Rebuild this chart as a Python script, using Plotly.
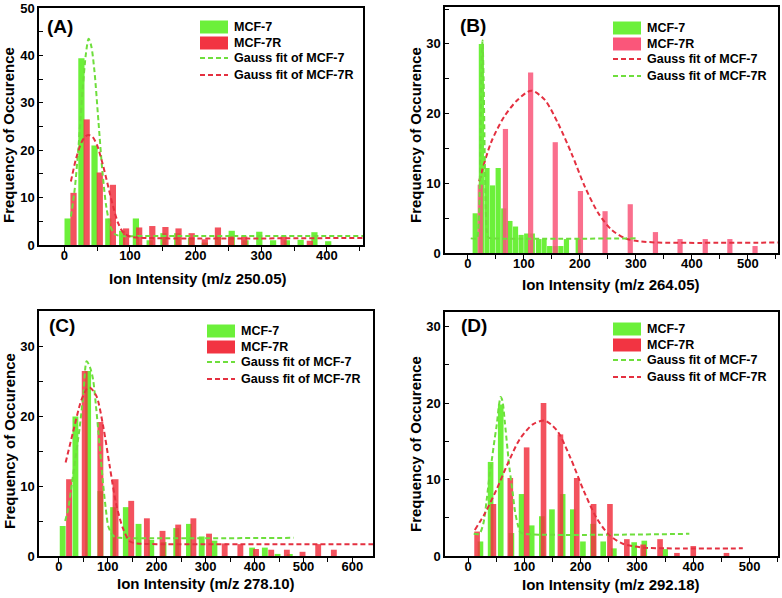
import plotly.graph_objects as go

W, H = 782, 598

# ---- (A) m/z 250.05 ----
a_green_x = [5, 26, 46, 67, 88, 109, 130, 151, 172, 193, 214, 234, 255, 276, 297, 318, 339, 360, 381, 402]
a_green_y = [5.6, 39.4, 21.0, 5.6, 3.0, 5.6, 1.0, 2.5, 2.5, 1.5, 0.5, 2.0, 3.0, 1.0, 2.8, 1.0, 1.0, 1.1, 2.7, 0.8]
a_red_x = [14, 34, 54, 74, 94, 114, 134, 154, 174, 194, 214, 234, 254, 274, 294, 314, 334, 354, 374]
a_red_y = [11.0, 26.5, 15.3, 12.7, 3.5, 3.7, 4.0, 3.8, 3.5, 2.5, 1.2, 3.7, 1.8, 1.8, 0, 0, 1.8, 0, 0.9]
a_gfit_x = [10, 16, 22, 28, 33, 37, 41, 46, 52, 58, 64, 70, 76, 85, 120, 455]
a_gfit_y = [6.0, 12.0, 21.5, 33.0, 40.5, 43.5, 42.0, 36.5, 26.0, 15.5, 8.0, 4.0, 2.4, 1.9, 1.9, 1.9]
a_rfit_x = [10, 18, 26, 32, 37, 43, 50, 58, 66, 74, 82, 90, 100, 120, 455]
a_rfit_y = [13.4, 18.3, 21.6, 22.9, 23.2, 22.8, 21.0, 17.3, 12.8, 8.3, 4.6, 2.6, 1.8, 1.5, 1.5]

# ---- (B) m/z 264.05 ----
b_green_x = [13, 24, 34, 44, 54, 64, 75, 85, 95, 105, 115, 126, 136, 146, 156, 166, 176, 186, 197]
b_green_y = [5.7, 30.0, 12.2, 9.7, 12.2, 6.4, 4.6, 3.8, 2.6, 2.8, 2.8, 2.0, 2.0, 1.0, 1.0, 1.0, 2.0, 0, 2.0]
b_red_x = [22, 67, 112, 156, 201, 245, 290, 335, 379, 424, 468, 513]
b_red_y = [9.8, 17.8, 25.9, 15.9, 8.9, 6.0, 7.0, 3.0, 2.0, 2.0, 2.0, 1.0]
b_rfit_x = [20, 41, 65, 89, 113, 137, 161, 185, 209, 233, 257, 281, 305, 340, 554]
b_rfit_y = [10.3, 15.8, 19.6, 22.0, 23.3, 22.0, 18.6, 14.3, 9.5, 5.7, 3.3, 2.1, 1.7, 1.5, 1.5]
b_gfit_x = [5, 16, 18, 20, 22, 24, 26, 28, 30, 32, 34, 37, 45, 300]
b_gfit_y = [2.1, 2.1, 2.9, 5.9, 13.8, 24.8, 30.5, 24.8, 13.8, 5.9, 2.9, 2.2, 2.1, 2.1]

# ---- (C) m/z 278.10 ----
c_green_x = [8, 34, 60, 85, 111, 137, 163, 189, 214, 240, 266, 292, 318, 343, 369, 395, 421, 447, 472]
c_green_y = [4.3, 20.0, 26.5, 9.3, 7.0, 7.0, 4.6, 2.3, 2.0, 4.0, 4.6, 2.8, 2.2, 0, 0, 1.2, 1.2, 0.3, 0.2]
c_red_x = [21, 53, 85, 116, 148, 180, 212, 244, 275, 307, 339, 371, 403, 434, 466, 498, 530, 562]
c_red_y = [11.0, 26.5, 19.2, 11.0, 7.9, 5.4, 3.6, 4.5, 5.4, 3.2, 1.8, 1.7, 1.0, 0.9, 0.9, 0.6, 1.7, 0.9]
c_gfit_x = [13, 20, 26, 34, 43, 50, 57, 64, 70, 76, 81, 86, 91, 96, 101, 108, 115, 125, 480]
c_gfit_y = [5.0, 7.0, 10.0, 14.0, 18.6, 23.0, 27.9, 27.0, 25.3, 21.5, 17.7, 13.8, 10.0, 6.8, 4.3, 3.2, 2.7, 2.6, 2.6]
c_rfit_x = [14, 29, 46, 58, 64, 77, 91, 104, 118, 132, 145, 160, 200, 642]
c_rfit_y = [13.4, 17.7, 22.3, 24.0, 24.1, 22.9, 18.5, 12.9, 7.2, 3.8, 2.1, 1.8, 1.7, 1.7]

# ---- (D) m/z 292.18 ----
d_green_x = [22, 40, 58, 77, 95, 113, 131, 149, 168, 186, 204, 222, 240, 259, 277, 295, 313, 331, 350]
d_green_y = [1.9, 12.3, 19.8, 3.0, 8.1, 4.0, 5.2, 6.1, 8.1, 6.1, 1.9, 4.2, 1.9, 1.0, 0, 1.8, 2.0, 0, 0.9]
d_red_x = [16, 45, 75, 104, 134, 164, 193, 223, 252, 282, 311, 341, 371, 400, 430, 459]
d_red_y = [3.2, 6.8, 10.2, 14.2, 20.0, 15.9, 10.2, 6.8, 6.8, 2.2, 1.5, 2.2, 0.4, 1.3, 0, 0.4]
d_gfit_x = [10, 20, 27, 33, 38, 42, 47, 51, 55, 58, 61, 65, 70, 74, 79, 83, 88, 93, 100, 393]
d_gfit_y = [2.9, 2.9, 4.2, 7.3, 10.5, 12.5, 15.2, 17.2, 19.8, 20.8, 20.3, 17.7, 14.0, 11.2, 8.4, 6.0, 4.2, 3.1, 2.9, 2.9]
d_rfit_x = [12, 30, 50, 70, 92, 115, 136, 158, 182, 205, 228, 250, 275, 310, 350, 488]
d_rfit_y = [3.4, 5.6, 8.6, 12.0, 15.3, 17.2, 17.7, 16.4, 12.8, 8.6, 5.0, 2.8, 1.6, 1.1, 1.0, 1.0]

GREEN = "rgb(108,240,58)"
RED = "rgb(242,52,66)"
PINK = "rgb(250,86,122)"
GFIT = "rgb(110,222,60)"
RFIT = "rgb(228,48,64)"
FONT = "Liberation Sans, Arial, sans-serif"

panels = [
    dict(tag="A", gx=a_green_x, gy=a_green_y, rx=a_red_x, ry=a_red_y, red=RED, w=9.5,
         fits=[(a_gfit_x, a_gfit_y, GFIT), (a_rfit_x, a_rfit_y, RFIT)],
         box=(39, 363, 8, 245), xr=[-38.6, 455], yr=[0, 50],
         xt="Ion Intensity (m/z 250.05)", xtp=(198, 278), ytp=(9, 135),
         lab=(45, 27), leg=(200, 27),
         legend=[("bar", GREEN, "MCF-7"), ("bar", RED, "MCF-7R"),
                 ("line", GFIT, "Gauss fit of MCF-7"), ("line", RFIT, "Gauss fit of MCF-7R")]),
    dict(tag="B", gx=b_green_x, gy=b_green_y, rx=b_red_x, ry=b_red_y, red=PINK, w=9.3,
         fits=[(b_rfit_x, b_rfit_y, RFIT), (b_gfit_x, b_gfit_y, GFIT)],
         box=(445, 778, 7, 253), xr=[-41, 554], yr=[0, 35.3],
         xt="Ion Intensity (m/z 264.05)", xtp=(611, 284), ytp=(416, 135),
         lab=(458, 26), leg=(613, 28),
         legend=[("bar", GREEN, "MCF-7"), ("bar", PINK, "MCF-7R"),
                 ("line", RFIT, "Gauss fit of MCF-7"), ("line", GFIT, "Gauss fit of MCF-7R")]),
    dict(tag="C", gx=c_green_x, gy=c_green_y, rx=c_red_x, ry=c_red_y, red=RED, w=12,
         fits=[(c_gfit_x, c_gfit_y, GFIT), (c_rfit_x, c_rfit_y, RFIT)],
         box=(39, 373, 311, 556), xr=[-40.4, 642], yr=[0, 35.1],
         xt="Ion Intensity (m/z 278.10)", xtp=(206, 583), ytp=(9, 441),
         lab=(47, 325), leg=(207, 331),
         legend=[("bar", GREEN, "MCF-7"), ("bar", RED, "MCF-7R"),
                 ("line", GFIT, "Gauss fit of MCF-7"), ("line", RFIT, "Gauss fit of MCF-7R")]),
    dict(tag="D", gx=d_green_x, gy=d_green_y, rx=d_red_x, ry=d_red_y, red=RED, w=10,
         fits=[(d_gfit_x, d_gfit_y, GFIT), (d_rfit_x, d_rfit_y, RFIT)],
         box=(445, 778, 312, 556), xr=[-41, 550.5], yr=[0, 31.9],
         xt="Ion Intensity (m/z 292.18)", xtp=(611, 584), ytp=(416, 444),
         lab=(459, 325), leg=(613, 329),
         legend=[("bar", GREEN, "MCF-7"), ("bar", RED, "MCF-7R"),
                 ("line", GFIT, "Gauss fit of MCF-7"), ("line", RFIT, "Gauss fit of MCF-7R")]),
]


def px(p):
    return p / W


def py(p):
    return 1 - p / H


fig = go.Figure()
shapes = []
annotations = []

for i, p in enumerate(panels):
    n = "" if i == 0 else str(i + 1)
    xa, ya = "x" + n, "y" + n
    fig.add_trace(go.Bar(x=p["gx"], y=p["gy"], width=p["w"], marker_color=GREEN,
                         marker_line_width=0, xaxis=xa, yaxis=ya))
    fig.add_trace(go.Bar(x=p["rx"], y=p["ry"], width=p["w"], marker_color=p["red"],
                         marker_line_width=0, opacity=0.85, xaxis=xa, yaxis=ya))
    for fx, fy, col in p["fits"]:
        fig.add_trace(go.Scatter(x=fx, y=fy, mode="lines", xaxis=xa, yaxis=ya,
                                 line=dict(color=col, width=2, dash="5px,3px",
                                           shape="spline", smoothing=0.8)))

    x0, x1, y0, y1 = p["box"]
    common = dict(showline=True, mirror=True, linecolor="black", linewidth=1.5,
                  showgrid=False, zeroline=False, tickcolor="black", tickwidth=1.2,
                  tickfont=dict(family=FONT, size=13, color="black", weight="bold"),
                  automargin=False)
    fig.layout["xaxis" + n] = dict(common, domain=[px(x0), px(x1)], range=p["xr"],
                                   anchor=ya, dtick=100, ticks="outside", ticklen=5,
                                   ticklabelstandoff=-7,
                                   minor=dict(dtick=50, ticks="outside", ticklen=4,
                                              tickwidth=1.2, tickcolor="black"))
    fig.layout["yaxis" + n] = dict(common, domain=[py(y1), py(y0)], range=p["yr"],
                                   anchor=xa, dtick=10, ticks="inside", ticklen=4,
                                   minor=dict(dtick=5, ticks="inside", ticklen=4,
                                              tickwidth=1.2, tickcolor="black"))

    # axis titles and panel label
    tfont = dict(family=FONT, size=15, color="black", weight="bold")
    annotations.append(dict(x=px(p["xtp"][0]), y=py(p["xtp"][1]), xref="paper", yref="paper",
                            text=p["xt"], showarrow=False, font=tfont,
                            xanchor="center", yanchor="middle"))
    annotations.append(dict(x=px(p["ytp"][0]), y=py(p["ytp"][1]), xref="paper", yref="paper",
                            text="Frequency of Occurence", showarrow=False, font=tfont,
                            textangle=-90, xanchor="center", yanchor="middle"))
    annotations.append(dict(x=px(p["lab"][0]), y=py(p["lab"][1]), xref="paper", yref="paper",
                            text="(" + p["tag"] + ")", showarrow=False,
                            font=dict(family=FONT, size=19, color="black", weight="bold"),
                            xanchor="left", yanchor="middle"))

    # legend drawn as swatches
    lx, ly = p["leg"]
    rows = [0, 16, 31, 48]
    for (kind, col, label), dy in zip(p["legend"], rows):
        cy = ly + dy
        if kind == "bar":
            shapes.append(dict(type="rect", xref="paper", yref="paper",
                               x0=px(lx), x1=px(lx + 28), y0=py(cy - 6.5), y1=py(cy + 6.5),
                               fillcolor=col, line=dict(width=0)))
        else:
            shapes.append(dict(type="line", xref="paper", yref="paper",
                               x0=px(lx), x1=px(lx + 28), y0=py(cy), y1=py(cy),
                               line=dict(color=col, width=2, dash="5px,3px")))
        annotations.append(dict(x=px(lx + 32), y=py(cy), xref="paper", yref="paper",
                                text=label, showarrow=False,
                                font=dict(family=FONT, size=12.5, color="black", weight="bold"),
                                xanchor="left", yanchor="middle"))

fig.update_layout(width=W, height=H, margin=dict(l=0, r=0, t=0, b=0),
                  paper_bgcolor="white", plot_bgcolor="white",
                  barmode="overlay", showlegend=False,
                  shapes=shapes, annotations=annotations)

# remove the default page margin so the figure sits at the top-left corner
fig.write_html("out.html", config={"displayModeBar": False},
               post_script="document.body.style.margin='0';")
